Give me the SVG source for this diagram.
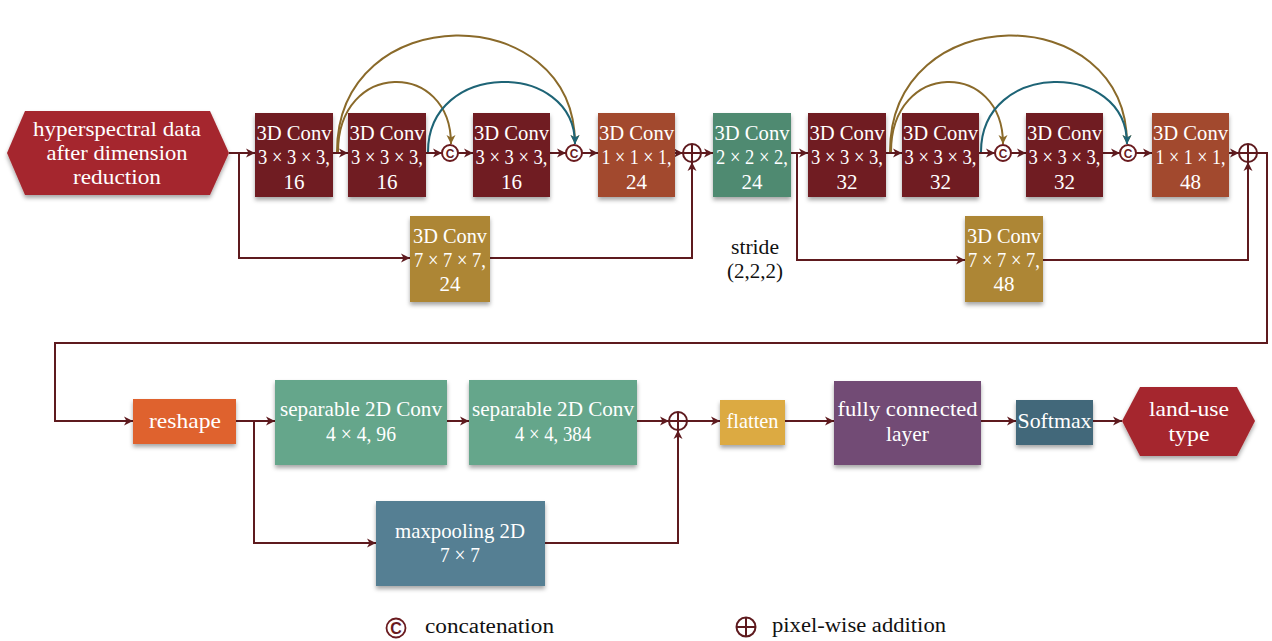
<svg xmlns="http://www.w3.org/2000/svg" width="1272" height="641" viewBox="0 0 1272 641" font-family="Liberation Serif, serif">
<defs>
<filter id="sh" x="-10%" y="-10%" width="120%" height="130%">
<feDropShadow dx="0" dy="3" stdDeviation="2" flood-color="#000" flood-opacity="0.35"/>
</filter>
<marker id="ar" markerUnits="userSpaceOnUse" markerWidth="10" markerHeight="10" refX="9" refY="5" orient="auto">
<path d="M0,0.5 L9,5 L0,9.5 L2.5,5 Z" fill="#5e1a1e"/>
</marker>
<marker id="arg" markerUnits="userSpaceOnUse" markerWidth="10" markerHeight="10" refX="9" refY="5" orient="auto">
<path d="M0,0.5 L9,5 L0,9.5 L2.5,5 Z" fill="#8a6a2a"/>
</marker>
<marker id="art" markerUnits="userSpaceOnUse" markerWidth="10" markerHeight="10" refX="9" refY="5" orient="auto">
<path d="M0,0.5 L9,5 L0,9.5 L2.5,5 Z" fill="#1e6476"/>
</marker>
</defs>
<style>
.w{fill:#ffffff;font-size:21px;text-anchor:middle;}
.k{fill:#111111;font-size:20px;text-anchor:middle;}
.kl{fill:#111111;font-size:20px;}
.ln{fill:none;stroke:#5e1a1e;stroke-width:2;marker-end:url(#ar);}
.ag{fill:none;stroke:#8a6a2a;stroke-width:2;marker-end:url(#arg);}
.at{fill:none;stroke:#1e6476;stroke-width:2;marker-end:url(#art);}
.dr{fill:#6f1d20;filter:url(#sh);}
.or{fill:#a24a2e;filter:url(#sh);}
.gr{fill:#4f8a71;filter:url(#sh);}
.go{fill:#ad8634;filter:url(#sh);}
.cc{fill:#ffffff;stroke:#6a1b1f;stroke-width:2;}
.cl{fill:#6a1b1f;font-size:12px;font-weight:bold;text-anchor:middle;}
.pl{fill:none;stroke:#5e1a1e;stroke-width:2;}
</style>

<g id="connectors">
<path class="ln" d="M229,153 H255"/>
<path class="ln" d="M333,153 H348"/>
<path class="ln" d="M426,153 H442"/>
<path class="ln" d="M458,153 H473"/>
<path class="ln" d="M550,153 H566"/>
<path class="ln" d="M582,153 H598"/>
<path class="ln" d="M675,153 H683"/>
<path class="ln" d="M701,153 H713"/>
<path class="ln" d="M791,153 H808"/>
<path class="ln" d="M886,153 H902"/>
<path class="ln" d="M979,153 H995"/>
<path class="ln" d="M1011,153 H1026"/>
<path class="ln" d="M1103,153 H1120"/>
<path class="ln" d="M1136,153 H1152"/>
<path class="ln" d="M1229,153 H1239"/>
<path class="ln" d="M239,153 V258 H410"/>
<path class="ln" d="M490,258 H692 V162"/>
<path class="ln" d="M797,153 V260 H965"/>
<path class="ln" d="M1043,260 H1248 V162"/>
<path class="ag" d="M337,152 C337,-2 575,-2 575,144"/>
<path class="ag" d="M338,152 C338,60 451,60 451,144"/>
<path class="at" d="M428,152 C428,60 575,60 575,144"/>
<path class="ag" d="M890,152 C890,-2 1127,-2 1127,144"/>
<path class="ag" d="M891,152 C891,60 1003,60 1003,144"/>
<path class="at" d="M981,152 C981,60 1127,60 1127,144"/>
<path class="ln" d="M1257,153 H1267 V343 H55 V421 H133"/>
<path class="ln" d="M236,421 H275"/>
<path class="ln" d="M447,421 H469"/>
<path class="ln" d="M637,421 H669"/>
<path class="ln" d="M687,421 H720"/>
<path class="ln" d="M785,421 H834"/>
<path class="ln" d="M981,421 H1016"/>
<path class="ln" d="M1093,421 H1122"/>
<path class="ln" d="M254,421 V543 H376"/>
<path class="ln" d="M545,543 H678 V430"/>
</g>

<g id="input">
<polygon points="7,153 25,111 210,111 229,153 210,195 25,195" fill="#a5282e" filter="url(#sh)"/>
<text class="w" x="117" y="136" textLength="168" lengthAdjust="spacingAndGlyphs">hyperspectral data</text>
<text class="w" x="117" y="160" textLength="141" lengthAdjust="spacingAndGlyphs">after dimension</text>
<text class="w" x="117" y="184" textLength="88" lengthAdjust="spacingAndGlyphs">reduction</text>
</g>

<g id="conv1"><rect class="dr" x="255" y="113" width="78" height="84"/>
<text class="w" x="294" y="140" textLength="75" lengthAdjust="spacingAndGlyphs">3D Conv</text><text class="w" x="294" y="164" textLength="72" lengthAdjust="spacingAndGlyphs">3 × 3 × 3,</text><text class="w" x="294" y="189">16</text></g>
<g id="conv2"><rect class="dr" x="348" y="113" width="78" height="84"/>
<text class="w" x="387" y="140" textLength="75" lengthAdjust="spacingAndGlyphs">3D Conv</text><text class="w" x="387" y="164" textLength="72" lengthAdjust="spacingAndGlyphs">3 × 3 × 3,</text><text class="w" x="387" y="189">16</text></g>
<g id="concat1"><circle class="cc" cx="450" cy="153" r="8"/><text class="cl" x="450" y="157.5" font-family="Liberation Sans, sans-serif">C</text></g>
<g id="conv3"><rect class="dr" x="473" y="113" width="77" height="84"/>
<text class="w" x="511.5" y="140" textLength="75" lengthAdjust="spacingAndGlyphs">3D Conv</text><text class="w" x="511.5" y="164" textLength="72" lengthAdjust="spacingAndGlyphs">3 × 3 × 3,</text><text class="w" x="511.5" y="189">16</text></g>
<g id="concat2"><circle class="cc" cx="574" cy="153" r="8"/><text class="cl" x="574" y="157.5" font-family="Liberation Sans, sans-serif">C</text></g>
<g id="conv4"><rect class="or" x="598" y="113" width="77" height="84"/>
<text class="w" x="636.5" y="140" textLength="75" lengthAdjust="spacingAndGlyphs">3D Conv</text><text class="w" x="636.5" y="164" textLength="70" lengthAdjust="spacingAndGlyphs">1 × 1 × 1,</text><text class="w" x="636.5" y="189">24</text></g>
<g id="add1"><circle class="pl" cx="692" cy="153" r="9"/><path class="pl" d="M683,153 H701 M692,144 V162"/></g>
<g id="conv5"><rect class="gr" x="713" y="113" width="78" height="84"/>
<text class="w" x="752" y="140" textLength="75" lengthAdjust="spacingAndGlyphs">3D Conv</text><text class="w" x="752" y="164" textLength="72" lengthAdjust="spacingAndGlyphs">2 × 2 × 2,</text><text class="w" x="752" y="189">24</text></g>
<g id="conv6"><rect class="dr" x="808" y="113" width="78" height="84"/>
<text class="w" x="847" y="140" textLength="75" lengthAdjust="spacingAndGlyphs">3D Conv</text><text class="w" x="847" y="164" textLength="72" lengthAdjust="spacingAndGlyphs">3 × 3 × 3,</text><text class="w" x="847" y="189">32</text></g>
<g id="conv7"><rect class="dr" x="902" y="113" width="77" height="84"/>
<text class="w" x="940.5" y="140" textLength="75" lengthAdjust="spacingAndGlyphs">3D Conv</text><text class="w" x="940.5" y="164" textLength="72" lengthAdjust="spacingAndGlyphs">3 × 3 × 3,</text><text class="w" x="940.5" y="189">32</text></g>
<g id="concat3"><circle class="cc" cx="1003" cy="153" r="8"/><text class="cl" x="1003" y="157.5" font-family="Liberation Sans, sans-serif">C</text></g>
<g id="conv8"><rect class="dr" x="1026" y="113" width="77" height="84"/>
<text class="w" x="1064.5" y="140" textLength="75" lengthAdjust="spacingAndGlyphs">3D Conv</text><text class="w" x="1064.5" y="164" textLength="72" lengthAdjust="spacingAndGlyphs">3 × 3 × 3,</text><text class="w" x="1064.5" y="189">32</text></g>
<g id="concat4"><circle class="cc" cx="1128" cy="153" r="8"/><text class="cl" x="1128" y="157.5" font-family="Liberation Sans, sans-serif">C</text></g>
<g id="conv9"><rect class="or" x="1152" y="113" width="77" height="84"/>
<text class="w" x="1190.5" y="140" textLength="75" lengthAdjust="spacingAndGlyphs">3D Conv</text><text class="w" x="1190.5" y="164" textLength="70" lengthAdjust="spacingAndGlyphs">1 × 1 × 1,</text><text class="w" x="1190.5" y="189">48</text></g>
<g id="add2"><circle class="pl" cx="1248" cy="153" r="9"/><path class="pl" d="M1239,153 H1257 M1248,144 V162"/></g>

<g id="conv7a"><rect class="go" x="410" y="216" width="80" height="86"/>
<text class="w" x="450" y="243" textLength="74" lengthAdjust="spacingAndGlyphs">3D Conv</text><text class="w" x="450" y="267" textLength="72" lengthAdjust="spacingAndGlyphs">7 × 7 × 7,</text><text class="w" x="450" y="291">24</text></g>
<g id="conv7b"><rect class="go" x="965" y="216" width="78" height="86"/>
<text class="w" x="1004" y="243" textLength="74" lengthAdjust="spacingAndGlyphs">3D Conv</text><text class="w" x="1004" y="267" textLength="72" lengthAdjust="spacingAndGlyphs">7 × 7 × 7,</text><text class="w" x="1004" y="291">48</text></g>

<g id="stride"><text class="k" x="755" y="254" textLength="48" lengthAdjust="spacingAndGlyphs">stride</text><text class="k" x="755" y="278" textLength="56" lengthAdjust="spacingAndGlyphs">(2,2,2)</text></g>

<g id="reshape"><rect x="133" y="399" width="103" height="45" fill="#df622f" filter="url(#sh)"/>
<text class="w" x="185" y="428" textLength="72" lengthAdjust="spacingAndGlyphs">reshape</text></g>
<g id="sepconv1"><rect x="275" y="380" width="172" height="85" fill="#65a68b" filter="url(#sh)"/>
<text class="w" x="361" y="416" textLength="162" lengthAdjust="spacingAndGlyphs">separable 2D Conv</text><text class="w" x="361" y="441" textLength="70" lengthAdjust="spacingAndGlyphs">4 × 4, 96</text></g>
<g id="sepconv2"><rect x="469" y="380" width="168" height="85" fill="#65a68b" filter="url(#sh)"/>
<text class="w" x="553" y="416" textLength="162" lengthAdjust="spacingAndGlyphs">separable 2D Conv</text><text class="w" x="553" y="441" textLength="76" lengthAdjust="spacingAndGlyphs">4 × 4, 384</text></g>
<g id="add3"><circle class="pl" cx="678" cy="421" r="9"/><path class="pl" d="M669,421 H687 M678,412 V430"/></g>
<g id="maxpool"><rect x="376" y="501" width="169" height="85" fill="#547f93" filter="url(#sh)"/>
<text class="w" x="460" y="538" textLength="130" lengthAdjust="spacingAndGlyphs">maxpooling 2D</text><text class="w" x="460" y="562" textLength="40" lengthAdjust="spacingAndGlyphs">7 × 7</text></g>
<g id="flatten"><rect x="720" y="400" width="65" height="45" fill="#dcaa42" filter="url(#sh)"/>
<text class="w" x="752.5" y="428" textLength="52" lengthAdjust="spacingAndGlyphs">flatten</text></g>
<g id="fc"><rect x="834" y="381" width="147" height="84" fill="#724b74" filter="url(#sh)"/>
<text class="w" x="907.5" y="416" textLength="140" lengthAdjust="spacingAndGlyphs">fully connected</text><text class="w" x="907.5" y="441" textLength="43" lengthAdjust="spacingAndGlyphs">layer</text></g>
<g id="softmax"><rect x="1016" y="400" width="77" height="45" fill="#43687a" filter="url(#sh)"/>
<text class="w" x="1054.5" y="428" textLength="74" lengthAdjust="spacingAndGlyphs">Softmax</text></g>
<g id="output"><polygon points="1122,421 1140,387 1237,387 1255,421 1237,456 1140,456" fill="#a5282e" filter="url(#sh)"/>
<text class="w" x="1189" y="416" textLength="80" lengthAdjust="spacingAndGlyphs">land-use</text><text class="w" x="1189" y="441" textLength="41" lengthAdjust="spacingAndGlyphs">type</text></g>

<g id="legend">
<circle cx="396" cy="628" r="9.5" fill="#fff" stroke="#6a1b1f" stroke-width="1.8"/>
<text x="396" y="634" fill="#6a1b1f" font-size="16" font-weight="bold" text-anchor="middle" font-family="Liberation Sans, sans-serif">C</text>
<text class="kl" x="425" y="633" textLength="129" lengthAdjust="spacingAndGlyphs">concatenation</text>
<circle class="pl" cx="746" cy="627" r="9.5"/><path class="pl" d="M736.5,627 H755.5 M746,617.5 V636.5"/>
<text class="kl" x="772" y="632" textLength="174" lengthAdjust="spacingAndGlyphs">pixel-wise addition</text>
</g>
</svg>
